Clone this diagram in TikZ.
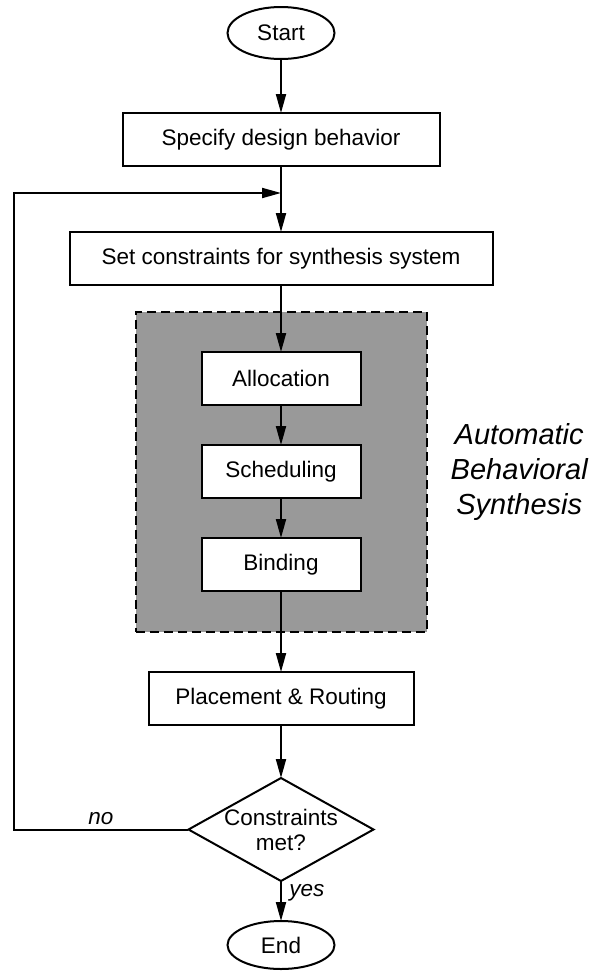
\documentclass[tikz,border=0pt]{standalone}
\usepackage{fontspec}
\setmainfont{Liberation Sans}
\usepackage{tikz}
\usetikzlibrary{shapes.geometric, arrows.meta, positioning, fit, backgrounds}
\definecolor{shadecolor}{gray}{0.6}

\begin{document}
\begin{tikzpicture}[
    x=1pt, y=-1pt,
    every node/.style={font=\fontsize{22.5}{25}\selectfont},
    terminal/.style={draw, ellipse, line width=2pt, fill=white, minimum width=107pt, minimum height=52pt, inner sep=0pt, outer sep=0pt},
    process/.style={draw, rectangle, line width=2pt, fill=white, minimum height=53pt, inner sep=0pt, outer sep=0pt},
    decision/.style={draw, diamond, line width=2pt, fill=white, aspect=1.8, inner sep=-8pt, outer sep=0pt, minimum width=185pt, minimum height=103pt, align=center},
    synthbox/.style={draw, dash pattern=on 9pt off 5pt, line width=2pt, fill=shadecolor, inner xsep=66pt, inner ysep=40.5pt},
    labeltext/.style={font=\fontsize{22.5}{25}\selectfont\itshape},
    arrow/.style={->, line width=2pt, >={Triangle[length=19pt,width=10pt]}}
]
    \useasboundingbox (0,0) rectangle (593,972);

    % Main flow
    \node[terminal] (start) at (281,33) {Start};
    \node[process, minimum width=317pt, below=54pt of start] (specify) {Specify design behavior};
    \node[process, minimum width=423pt, below=66pt of specify] (setc) {Set constraints for synthesis system};
    \node[process, minimum width=159pt, below=67pt of setc] (alloc) {Allocation};
    \node[process, minimum width=159pt, below=40pt of alloc] (sched) {Scheduling};
    \node[process, minimum width=159pt, below=40pt of sched] (bind) {Binding};
    \node[process, minimum width=265pt, below=81pt of bind] (place) {Placement \& Routing};
    \node[decision, below=53pt of place] (check) {Constraints\\met?};
    \node[terminal, minimum height=48pt, below=40pt of check] (finish) {End};

    % Synthesis region
    \begin{scope}[on background layer]
        \node[synthbox, fit=(alloc)(bind)] (synth) {};
    \end{scope}
    \node[right=23pt of synth, inner sep=0pt, align=center, font=\fontsize{29}{35}\selectfont\itshape] (synthlabel) {Automatic\\Behavioral\\Synthesis};

    % Arrows
    \coordinate[below=27pt of specify] (join);
    \coordinate[left=175pt of check] (corner);
    \draw[arrow] (start) -- (specify);
    \draw[arrow] (specify) -- (setc);
    \draw[arrow] (setc) -- (alloc);
    \draw[arrow] (alloc) -- (sched);
    \draw[arrow] (sched) -- (bind);
    \draw[arrow] (bind) -- (place);
    \draw[arrow] (place) -- (check);
    \draw[arrow] (check) -- node[right, labeltext, pos=0.3, xshift=4pt] {yes} (finish);
    \draw[arrow] (check) -- node[above, labeltext] {no} (corner) |- (join);
\end{tikzpicture}
\end{document}
